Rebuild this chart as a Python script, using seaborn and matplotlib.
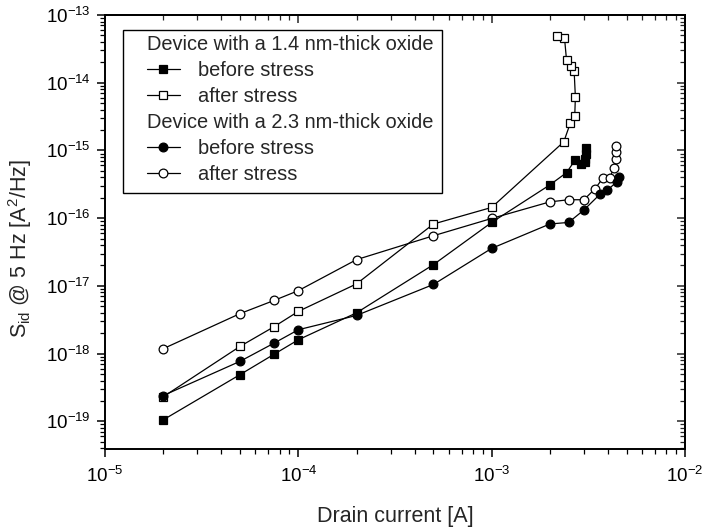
import numpy as np
import pandas as pd
import matplotlib
matplotlib.use("Agg")
import matplotlib.pyplot as plt
from matplotlib.lines import Line2D
from matplotlib.patches import Rectangle
import seaborn as sns

# ---------------- data ----------------
x_14_before = [2e-5, 5e-5, 7.5e-5, 1e-4, 2e-4, 5e-4, 1e-3, 2e-3, 2.44e-3, 2.70e-3,
               2.89e-3, 3.04e-3, 3.04e-3, 3.06e-3, 3.06e-3]
y_14_before = [1.05e-19, 4.9e-19, 9.8e-19, 1.6e-18, 4.0e-18, 2.06e-17, 8.65e-17, 3.1e-16,
               4.7e-16, 7.2e-16, 6.2e-16, 6.7e-16, 7.4e-16, 9.0e-16, 1.1e-15]

x_14_after = [2e-5, 5e-5, 7.5e-5, 1e-4, 2e-4, 5e-4, 1e-3, 2.36e-3, 2.55e-3, 2.69e-3,
              2.71e-3, 2.67e-3, 2.56e-3, 2.44e-3, 2.38e-3, 2.18e-3]
y_14_after = [2.3e-19, 1.28e-18, 2.5e-18, 4.2e-18, 1.07e-17, 8.2e-17, 1.44e-16, 1.34e-15,
              2.52e-15, 3.24e-15, 6.16e-15, 1.5e-14, 1.78e-14, 2.13e-14, 4.63e-14, 4.96e-14]

x_23_before = [2e-5, 5e-5, 7.5e-5, 1e-4, 2e-4, 5e-4, 1e-3, 2e-3, 2.5e-3, 3e-3,
               3.63e-3, 3.96e-3, 4.43e-3, 4.56e-3]
y_23_before = [2.4e-19, 7.7e-19, 1.43e-18, 2.25e-18, 3.66e-18, 1.05e-17, 3.58e-17, 8.2e-17,
               8.65e-17, 1.32e-16, 2.25e-16, 2.58e-16, 3.42e-16, 4.1e-16]

x_23_after = [2e-5, 5e-5, 7.5e-5, 1e-4, 2e-4, 5e-4, 1e-3, 2e-3, 2.5e-3, 3e-3,
              3.43e-3, 3.78e-3, 4.09e-3, 4.29e-3, 4.38e-3, 4.38e-3, 4.38e-3]
y_23_after = [1.18e-18, 3.9e-18, 6.1e-18, 8.5e-18, 2.44e-17, 5.5e-17, 9.9e-17, 1.74e-16,
              1.87e-16, 1.87e-16, 2.73e-16, 3.98e-16, 3.98e-16, 5.57e-16, 7.6e-16, 9.6e-16, 1.16e-15]

header_14 = "Device with a 1.4 nm-thick oxide"
header_23 = "Device with a 2.3 nm-thick oxide"
label_before = "before stress"
label_after = "after stress"
x_label = "Drain current [A]"
y_label = r"S$_{\rm id}$ @ 5 Hz [A$^{2}$/Hz]"

# ---------------- style ----------------
sns.set_style("ticks")
plt.rcParams["font.family"] = ["Liberation Sans", "DejaVu Sans"]
plt.rcParams["mathtext.fontset"] = "custom"
plt.rcParams["mathtext.rm"] = "Liberation Sans"
plt.rcParams["mathtext.it"] = "Liberation Sans:italic"
plt.rcParams["mathtext.bf"] = "Liberation Sans:bold"
plt.rcParams["mathtext.default"] = "regular"

fig = plt.figure(figsize=(7.04, 5.31), dpi=100)
ax = fig.add_axes([105 / 704, 1 - 449 / 531, 580 / 704, 434 / 531])

ms = 6.3
common = dict(color="black", linewidth=0.9, markeredgecolor="black",
              markeredgewidth=0.9, markersize=ms, sort=False, estimator=None, ax=ax)

series = [
    (x_23_after, y_23_after, "o", "white"),
    (x_14_after, y_14_after, "s", "white"),
    (x_23_before, y_23_before, "o", "black"),
    (x_14_before, y_14_before, "s", "black"),
]
for xs, ys, mk, fc in series:
    df = pd.DataFrame({"x": xs, "y": ys})
    sns.lineplot(data=df, x="x", y="y", marker=mk, markerfacecolor=fc, **common)

ax.set_xscale("log")
ax.set_yscale("log")
ax.set_xlim(1e-5, 1e-2)
ax.set_ylim(3.9e-20, 1e-13)

for sp in ax.spines.values():
    sp.set_visible(True)
    sp.set_linewidth(1.4)
    sp.set_color("black")

ax.tick_params(which="both", direction="out", labelsize=13.5, colors="black",
               top=False, right=False)
ax.tick_params(which="major", length=6, width=1.1)
ax.tick_params(axis="y", which="major", pad=4)
ax.tick_params(axis="x", which="major", pad=6.5)
ax.tick_params(which="minor", length=3.5, width=0.9)

sec_x = ax.secondary_xaxis("top")
sec_x.tick_params(which="both", direction="in", labeltop=False)
sec_x.tick_params(which="major", length=6, width=1.1)
sec_x.tick_params(which="minor", length=3.5, width=0.9)
sec_x.spines["top"].set_linewidth(1.4)
sec_y = ax.secondary_yaxis("right")
sec_y.tick_params(which="both", direction="in", labelright=False)
sec_y.tick_params(which="major", length=6, width=1.1)
sec_y.tick_params(which="minor", length=3.5, width=0.9)
sec_y.spines["right"].set_linewidth(1.4)

ax.set_xlabel(x_label, fontsize=15.5, labelpad=14)
ax.set_ylabel(y_label, fontsize=15.5)
ax.yaxis.set_label_coords(-0.122, 0.463)

# ---------------- legend ----------------
ax.add_patch(Rectangle((0.031, 0.5899), 0.550, 0.3755, transform=ax.transAxes,
                       facecolor="white", edgecolor="black", linewidth=1.0, zorder=4))

hstyle = dict(color="black", linewidth=0.9, markeredgecolor="black",
              markeredgewidth=0.9, markersize=ms)
blank = Line2D([], [], linestyle="none")
h_sq_f = Line2D([], [], marker="s", markerfacecolor="black", **hstyle)
h_sq_o = Line2D([], [], marker="s", markerfacecolor="white", **hstyle)
h_ci_f = Line2D([], [], marker="o", markerfacecolor="black", **hstyle)
h_ci_o = Line2D([], [], marker="o", markerfacecolor="white", **hstyle)
handles = [blank, h_sq_f, h_sq_o, blank, h_ci_f, h_ci_o]
labels = [header_14, label_before, label_after, header_23, label_before, label_after]
leg = ax.legend(handles, labels, loc="upper left", bbox_to_anchor=(0.0724, 0.9528),
                borderaxespad=0, fontsize=14.4, frameon=False,
                handlelength=1.65, handletextpad=0.9,
                labelspacing=0.35, borderpad=0.0, numpoints=1)
leg.set_zorder(5)
rows = leg._legend_handle_box.get_children()[0].get_children()
for i in (0, 3):
    rows[i].get_children()[0].set_width(0)
    rows[i].sep = 0

fig.savefig("out.png", dpi=100)
